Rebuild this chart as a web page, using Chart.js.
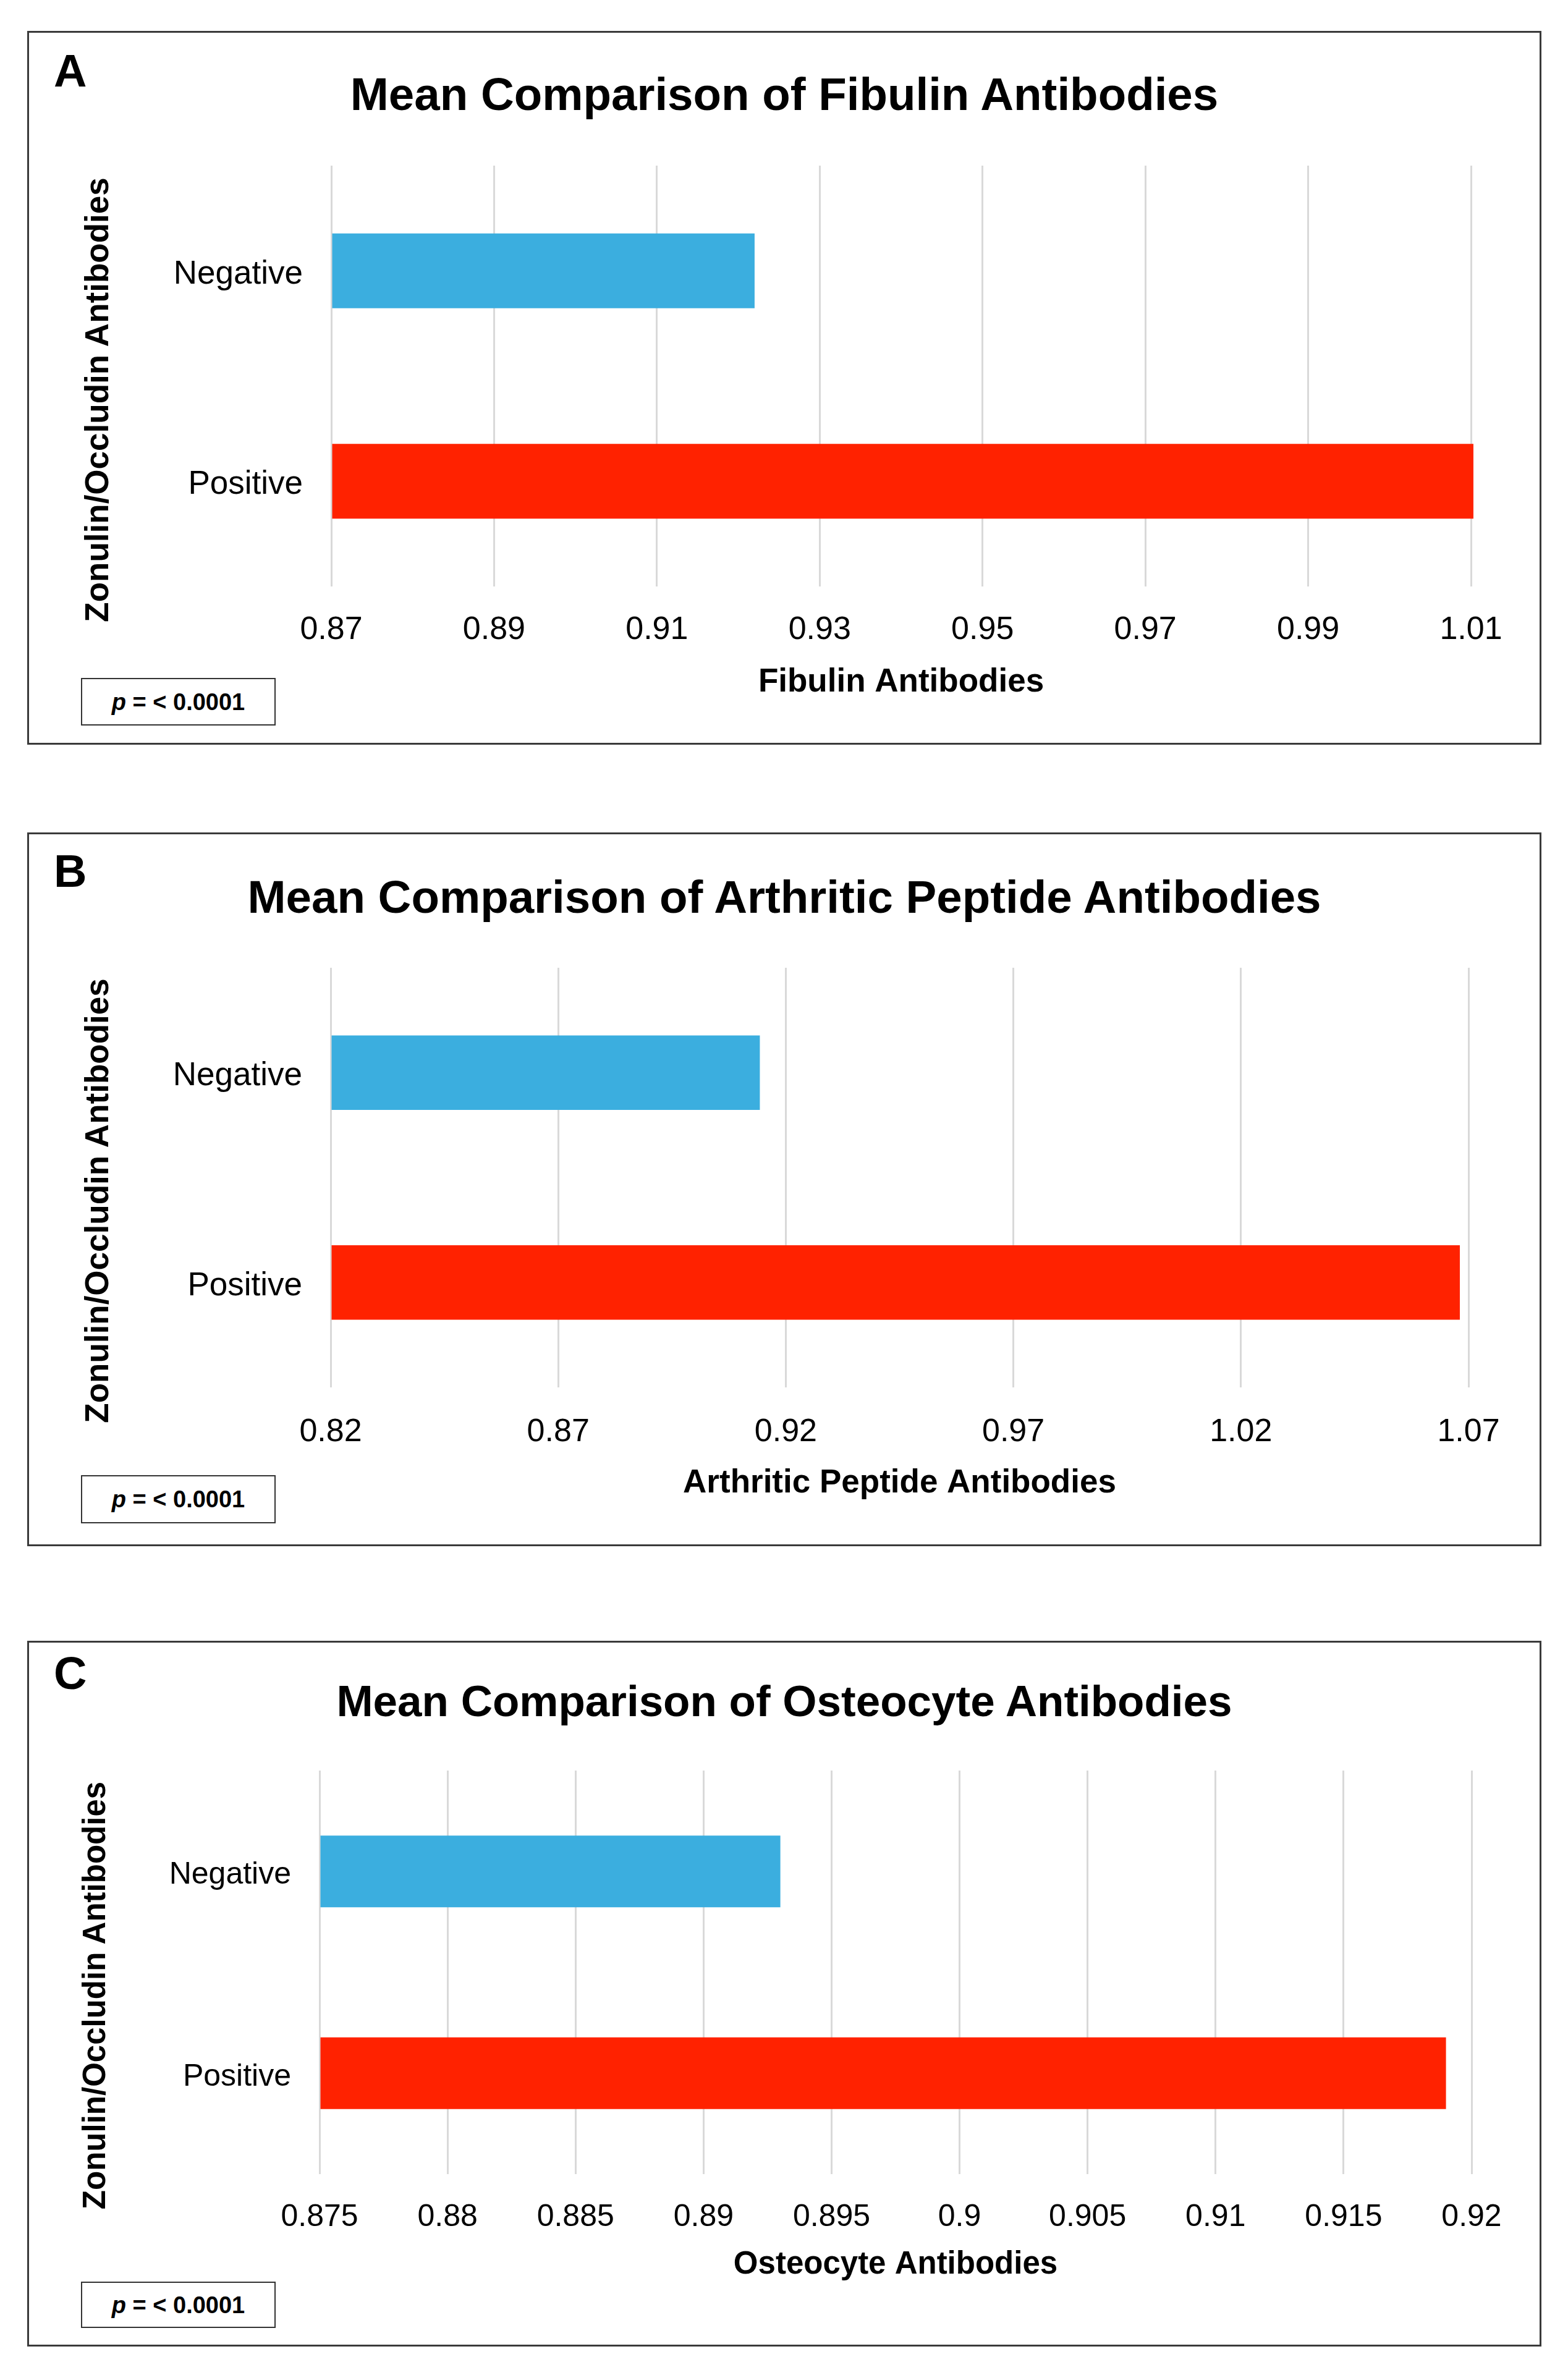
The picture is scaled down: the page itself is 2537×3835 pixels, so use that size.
<!DOCTYPE html>
<html>
<head>
<meta charset="utf-8">
<script src="https://cdn.jsdelivr.net/npm/chart.js@4.4.1/dist/chart.umd.min.js"></script>
<style>
html,body{margin:0;padding:0;background:#fff;}
body{width:2537px;height:3835px;position:relative;overflow:hidden;font-family:'Liberation Sans',Arial,sans-serif;}
.panel{position:absolute;left:44px;width:2450px;border:3px solid #3a3a3a;box-sizing:border-box;}
.abs{position:absolute;white-space:nowrap;line-height:1;color:#000;}
.letter{font-weight:bold;font-size:74px;left:87px;}
.title{font-weight:bold;left:44px;width:2450px;text-align:center;}
.ytitle{font-weight:bold;transform:translate(-50%,-50%) rotate(-90deg);}
.pbox{position:absolute;left:131px;width:315px;border:2px solid #333;box-sizing:border-box;display:flex;align-items:center;justify-content:center;font-weight:bold;font-size:38px;line-height:1;color:#000;}
canvas{position:absolute;left:0;}
</style>
</head>
<body>
<script>
// ---------- DATA ----------
const categories = ['Negative', 'Positive'];

const fibulinValues   = [0.922, 1.0103];
const arthriticValues = [0.9143, 1.0681];
const osteocyteValues = [0.893, 0.919];

const fibulinTicks = [0.87, 0.89, 0.91, 0.93, 0.95, 0.97, 0.99, 1.01];
const fibulinTickLabels = ['0.87', '0.89', '0.91', '0.93', '0.95', '0.97', '0.99', '1.01'];
const arthriticTicks = [0.82, 0.87, 0.92, 0.97, 1.02, 1.07];
const arthriticTickLabels = ['0.82', '0.87', '0.92', '0.97', '1.02', '1.07'];
const osteocyteTicks = [0.875, 0.88, 0.885, 0.89, 0.895, 0.9, 0.905, 0.91, 0.915, 0.92];
const osteocyteTickLabels = ['0.875', '0.88', '0.885', '0.89', '0.895', '0.9', '0.905', '0.91', '0.915', '0.92'];

const panelLetters = ['A', 'B', 'C'];
const chartTitles = ['Mean Comparison of Fibulin Antibodies', 'Mean Comparison of Arthritic Peptide Antibodies', 'Mean Comparison of Osteocyte Antibodies'];
const xTitles = ['Fibulin Antibodies', 'Arthritic Peptide Antibodies', 'Osteocyte Antibodies'];
const yTitle = 'Zonulin/Occludin Antibodies';
const pValueText = '< 0.0001';

// ---------- STYLE ----------
const barColors = ['#3BAEDF', '#FF2200'];
const FONT = "'Liberation Sans', Arial, sans-serif";

// ---------- LAYOUT (positions only) ----------
const layouts = [
  {panelTop:50, panelH:1155, letterTop:78, titleCap:152, titleSize:74.5,
   L:536, R:2380, gridTop:268, gridBottom:949, tickPad:45, tickSize:52, labelSize:53,
   xTitleY:1104, xTitleSize:53, yTitleX:156, yTitleY:646.5, yTitleSize:53, pTop:1097, pH:77},
  {panelTop:1347, panelH:1155, letterTop:1373, titleCap:1451, titleSize:74.5,
   L:535, R:2376, gridTop:1566, gridBottom:2245, tickPad:47, tickSize:52, labelSize:53,
   xTitleY:2400, xTitleSize:53, yTitleX:156, yTitleY:1943, yTitleSize:53, pTop:2387, pH:78},
  {panelTop:2655, panelH:1142, letterTop:2671, titleCap:2752, titleSize:71,
   L:517, R:2381, gridTop:2865, gridBottom:3518, tickPad:45, tickSize:50, labelSize:50,
   xTitleY:3665, xTitleSize:51, yTitleX:152, yTitleY:3229, yTitleSize:51, pTop:3692, pH:75}
];

const seriesValues = [fibulinValues, arthriticValues, osteocyteValues];
const tickValues = [fibulinTicks, arthriticTicks, osteocyteTicks];
const tickLabels = [fibulinTickLabels, arthriticTickLabels, osteocyteTickLabels];

function addEl(cls, css, html) {
  const d = document.createElement('div');
  d.className = cls;
  Object.assign(d.style, css);
  if (html !== undefined) d.innerHTML = html;
  document.body.appendChild(d);
  return d;
}

layouts.forEach((lay, i) => {
  addEl('panel', {top: lay.panelTop + 'px', height: lay.panelH + 'px'});
  addEl('abs letter', {top: lay.letterTop + 'px'}, panelLetters[i]);
  const t = addEl('abs title', {top: (lay.titleCap - 0.4885 * lay.titleSize) + 'px', fontSize: lay.titleSize + 'px'});
  t.textContent = chartTitles[i];
  const yt = addEl('abs ytitle', {left: lay.yTitleX + 'px', top: lay.yTitleY + 'px', fontSize: lay.yTitleSize + 'px'});
  yt.textContent = yTitle;
  addEl('pbox', {top: lay.pTop + 'px', height: lay.pH + 'px'}, '<span><i>p</i> = ' + pValueText.replace('<', '&lt;') + '</span>');

  const cv = document.createElement('canvas');
  cv.width = 2537; cv.height = lay.panelH;
  cv.style.top = lay.panelTop + 'px';
  cv.style.width = '2537px'; cv.style.height = lay.panelH + 'px';
  document.body.appendChild(cv);

  const ticks = tickValues[i];
  const labels = tickLabels[i];
  new Chart(cv.getContext('2d'), {
    type: 'bar',
    data: {
      labels: categories,
      datasets: [{
        data: seriesValues[i],
        base: ticks[0],
        backgroundColor: barColors,
        borderWidth: 0,
        barPercentage: 0.355,
        categoryPercentage: 1,
        clip: false
      }]
    },
    options: {
      indexAxis: 'y',
      responsive: false,
      animation: false,
      devicePixelRatio: 1,
      layout: {padding: {left: 0, right: 2537 - lay.R, top: lay.gridTop - lay.panelTop, bottom: 0}},
      plugins: {legend: {display: false}, title: {display: false}, tooltip: {enabled: false}},
      scales: {
        x: {
          type: 'linear', position: 'bottom',
          min: ticks[0], max: ticks[ticks.length - 1],
          afterBuildTicks: s => { s.ticks = ticks.map(v => ({value: v})); },
          afterFit: s => { s.height = lay.panelTop + lay.panelH - lay.gridBottom; },
          grid: {color: '#d9d9d9', lineWidth: 3, drawTicks: false},
          border: {display: false},
          ticks: {
            autoSkip: false, maxRotation: 0, minRotation: 0,
            padding: lay.tickPad, color: '#000',
            font: {family: FONT, size: lay.tickSize, lineHeight: 1},
            callback: (v, idx) => labels[idx]
          },
          title: {
            display: true, text: xTitles[i], color: '#000',
            font: {family: FONT, size: lay.xTitleSize, weight: 'bold', lineHeight: 1},
            padding: {top: 0, bottom: lay.panelTop + lay.panelH - lay.xTitleY - lay.xTitleSize / 2}
          }
        },
        y: {
          type: 'category', position: 'left',
          afterFit: s => { s.width = lay.L; },
          grid: {display: false, drawTicks: false},
          border: {display: false},
          ticks: {padding: 46, labelOffset: 6, color: '#000', font: {family: FONT, size: lay.labelSize, lineHeight: 1}}
        }
      }
    }
  });
});
</script>
</body>
</html>
